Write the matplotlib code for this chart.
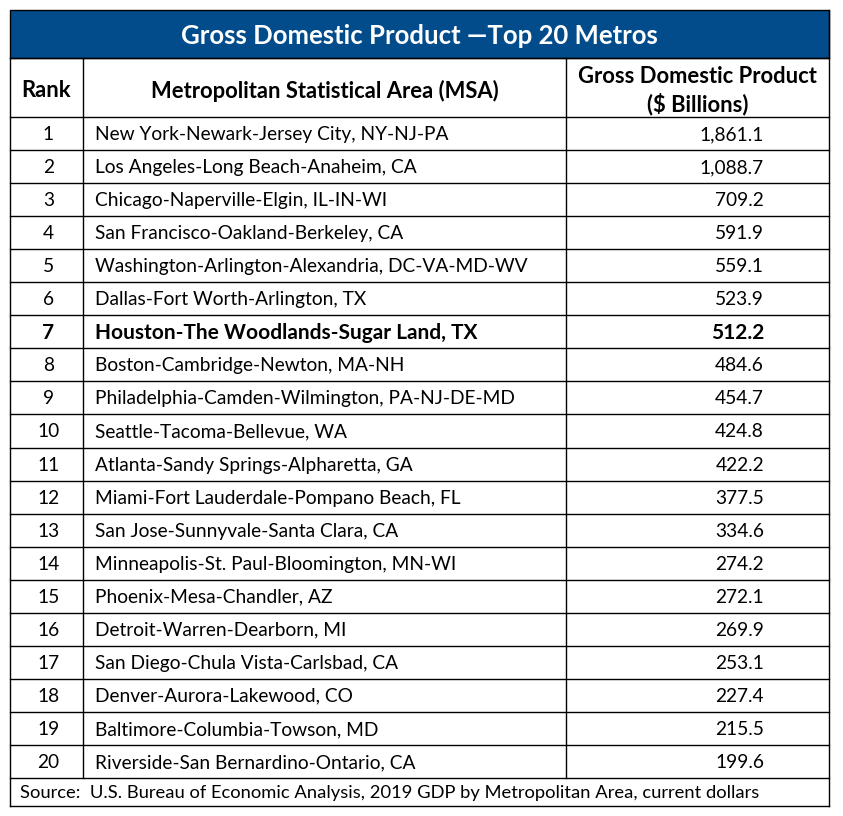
import matplotlib.pyplot as plt

plt.rcParams['font.family'] = ['Lato', 'DejaVu Sans']

title = 'Gross Domestic Product \u2014Top 20 Metros'
headers = ['Rank', 'Metropolitan Statistical Area (MSA)', 'Gross Domestic Product\n($ Billions)']
ranks = list(range(1, 21))
metros = [
    'New York-Newark-Jersey City, NY-NJ-PA',
    'Los Angeles-Long Beach-Anaheim, CA',
    'Chicago-Naperville-Elgin, IL-IN-WI',
    'San Francisco-Oakland-Berkeley, CA',
    'Washington-Arlington-Alexandria, DC-VA-MD-WV',
    'Dallas-Fort Worth-Arlington, TX',
    'Houston-The Woodlands-Sugar Land, TX',
    'Boston-Cambridge-Newton, MA-NH',
    'Philadelphia-Camden-Wilmington, PA-NJ-DE-MD',
    'Seattle-Tacoma-Bellevue, WA',
    'Atlanta-Sandy Springs-Alpharetta, GA',
    'Miami-Fort Lauderdale-Pompano Beach, FL',
    'San Jose-Sunnyvale-Santa Clara, CA',
    'Minneapolis-St. Paul-Bloomington, MN-WI',
    'Phoenix-Mesa-Chandler, AZ',
    'Detroit-Warren-Dearborn, MI',
    'San Diego-Chula Vista-Carlsbad, CA',
    'Denver-Aurora-Lakewood, CO',
    'Baltimore-Columbia-Towson, MD',
    'Riverside-San Bernardino-Ontario, CA',
]
gdp = [1861.1, 1088.7, 709.2, 591.9, 559.1, 523.9, 512.2, 484.6, 454.7, 424.8,
       422.2, 377.5, 334.6, 274.2, 272.1, 269.9, 253.1, 227.4, 215.5, 199.6]
highlight = 'Houston-The Woodlands-Sugar Land, TX'
source = 'Source:  U.S. Bureau of Economic Analysis, 2019 GDP by Metropolitan Area, current dollars'

# table geometry in pixels
W, H = 843, 816
left, right = 10, 829
col1, col2 = 83, 566
top, head_top, head_bot = 10, 58, 117
row_h = 33.05
src_bot = 806
blue = '#034C8C'

fig = plt.figure(figsize=(W / 100, H / 100), dpi=100)
ax = fig.add_axes([0, 0, 1, 1])
ax.set_xlim(0, W)
ax.set_ylim(H, 0)
ax.axis('off')

# title band
ax.add_patch(plt.Rectangle((left, top), right - left, head_top - top, facecolor=blue,
                           edgecolor='black', lw=1))
ax.text((left + right) / 2, (top + head_top) / 2 + 2, title, color='white', fontsize=18.5,
        fontweight='bold', ha='center', va='center')

rows_bot = head_bot + row_h * len(ranks)

# grid lines
lw = 1.0
for y in [head_top, head_bot] + [head_bot + row_h * i for i in range(1, len(ranks) + 1)] + [src_bot]:
    ax.plot([left, right], [y, y], color='black', lw=lw)
ax.plot([left, left], [head_top, src_bot], color='black', lw=lw)
ax.plot([right, right], [top, src_bot], color='black', lw=lw)
for x in (col1, col2):
    ax.plot([x, x], [head_top, rows_bot], color='black', lw=lw)

# header
hy = (head_top + head_bot) / 2 + 3
hfs = 15.8
ax.text((left + col1) / 2, hy, headers[0], fontsize=hfs, fontweight='bold', ha='center', va='center')
ax.text((col1 + col2) / 2, hy, headers[1], fontsize=hfs, fontweight='bold', ha='center', va='center')
ax.text((col2 + right) / 2, hy, headers[2], fontsize=hfs, fontweight='bold', ha='center', va='center',
        linespacing=1.3)

# data rows
for i, (r, m, v) in enumerate(zip(ranks, metros, gdp)):
    y = head_bot + row_h * (i + 0.5) + 1
    bold = m == highlight
    w = 'bold' if bold else 'normal'
    fs = 15 if bold else 13.8
    ax.text((left + col1) / 2 + 2, y, str(r), fontsize=fs, fontweight=w, ha='center', va='center')
    ax.text(col1 + 12, y, m, fontsize=fs, fontweight=w, ha='left', va='center')
    ax.text(764, y, f'{v:,.1f}', fontsize=fs, fontweight=w, ha='right', va='center')

ax.text(left + 10, (rows_bot + src_bot) / 2 + 1, source, fontsize=13.2, ha='left', va='center')

fig.savefig('out.png', dpi=100, facecolor='white')
